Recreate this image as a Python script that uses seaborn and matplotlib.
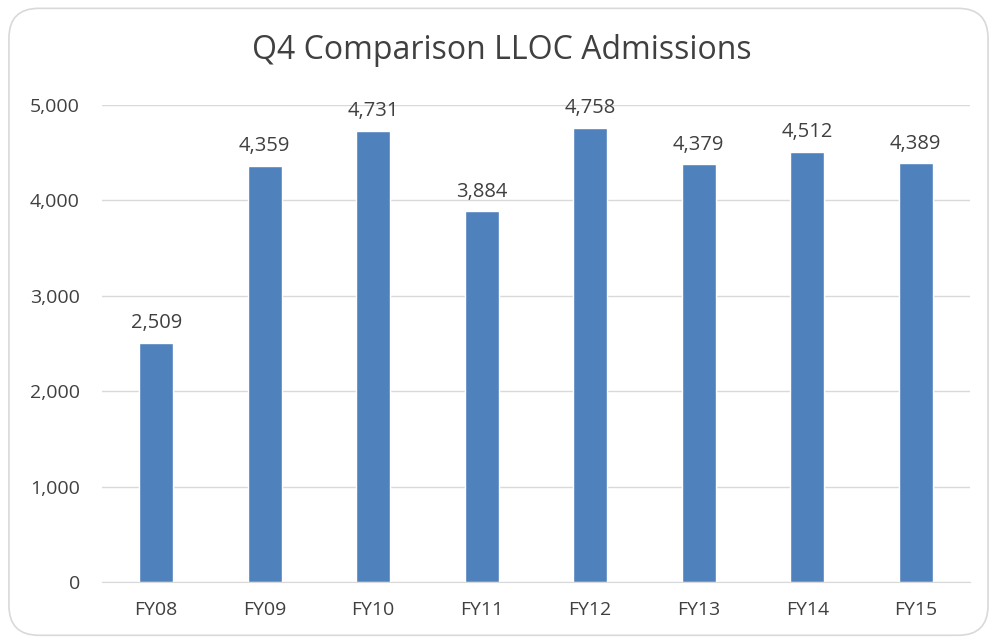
import matplotlib
matplotlib.use("Agg")
import matplotlib.pyplot as plt
import seaborn as sns
import pandas as pd
from matplotlib.patches import FancyBboxPatch
from matplotlib.ticker import FuncFormatter

categories = ["FY08", "FY09", "FY10", "FY11", "FY12", "FY13", "FY14", "FY15"]
values = [2509, 4359, 4731, 3884, 4758, 4379, 4512, 4389]
yticks = [0, 1000, 2000, 3000, 4000, 5000]

sns.set_style("white")
plt.rcParams['font.family'] = ['Open Sans', 'DejaVu Sans']

df = pd.DataFrame({"cat": categories, "val": values})

fig = plt.figure(figsize=(9.94, 6.43), dpi=100)
border = FancyBboxPatch((0.009, 0.012), 0.985, 0.975, boxstyle="round,pad=0,rounding_size=0.03",
                        transform=fig.transFigure, facecolor="white", edgecolor="#d9d9d9",
                        linewidth=1.2, mutation_aspect=994/643, zorder=-5)
fig.patches.append(border)

ax = fig.add_axes([0.1026, 0.0949, 0.8732, 0.7418])
ax.set_facecolor("none")
sns.barplot(data=df, x="cat", y="val", color="#4F81BD", width=0.31, ax=ax, saturation=1)
ax.set_ylim(0, 5000)
ax.set_xlim(-0.5, 7.5)
ax.set_yticks(yticks)
ax.yaxis.set_major_formatter(FuncFormatter(lambda v, p: f"{int(v):,}"))
ax.grid(axis="y", color="#d9d9d9", linewidth=1)
ax.set_axisbelow(True)
for s in ["top", "right", "left"]:
    ax.spines[s].set_visible(False)
ax.spines["bottom"].set_color("#d9d9d9")
ax.tick_params(axis="y", length=0, labelsize=14, labelcolor="#404040", pad=16)
ax.tick_params(axis="x", length=0, labelsize=14, labelcolor="#404040", pad=14)
ax.set_xlabel("")
ax.set_ylabel("")
for c in ax.containers:
    ax.bar_label(c, labels=[f"{v:,}" for v in values], padding=7, fontsize=14.5, color="#404040")
fig.text(0.505, 0.922, "Q4 Comparison LLOC Admissions", ha="center", va="center",
         fontsize=23, color="#404040")
fig.savefig("out.png", dpi=100)
